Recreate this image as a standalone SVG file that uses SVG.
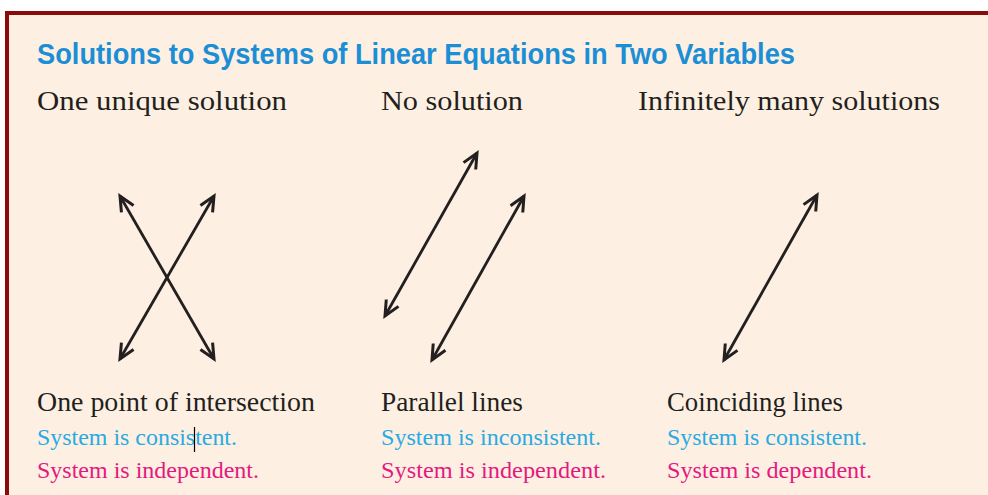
<svg xmlns="http://www.w3.org/2000/svg" width="988" height="495" viewBox="0 0 988 495">
<style>
.hd{font-family:"Liberation Serif","Times New Roman",serif;font-size:27px;fill:#231f20}
.bl{font-family:"Liberation Serif","Times New Roman",serif;font-size:23.5px;fill:#2aaae2}
.pk{font-family:"Liberation Serif","Times New Roman",serif;font-size:23.5px;fill:#e6187f}
.ttl{font-family:"Liberation Sans Narrow","Liberation Sans",Arial,sans-serif;font-weight:bold;font-size:29px;fill:#1b8ed6}
.ln{stroke:#231f20;stroke-width:2.8;fill:none;marker-start:url(#ah);marker-end:url(#ah)}
</style>
<defs>
<marker id="ah" markerUnits="userSpaceOnUse" viewBox="-20 -10 24 20" refX="0" refY="0" markerWidth="24" markerHeight="20" orient="auto-start-reverse">
<path d="M-15 -7 L0 0 L-15 7" fill="none" stroke="#231f20" stroke-width="3" stroke-linejoin="miter"/>
</marker>
</defs>
<rect x="0" y="0" width="988" height="495" fill="#ffffff"/>
<rect x="7" y="13" width="990" height="490" fill="#fdf0e2"/>
<line x1="5" y1="13" x2="988" y2="13" stroke="#8b0a0a" stroke-width="4"/>
<line x1="7" y1="11" x2="7" y2="495" stroke="#8b0a0a" stroke-width="4"/>
<g id="title"><text class="ttl" x="37" y="64" textLength="758" lengthAdjust="spacingAndGlyphs">Solutions to Systems of Linear Equations in Two Variables</text></g>
<g id="panel-unique">
<text class="hd" x="37" y="110" textLength="250" lengthAdjust="spacingAndGlyphs">One unique solution</text>
<text class="hd" x="37" y="411" textLength="278" lengthAdjust="spacingAndGlyphs">One point of intersection</text>
<text class="bl" x="37" y="445" textLength="200" lengthAdjust="spacingAndGlyphs">System is consistent.</text>
<text class="pk" x="37" y="478" textLength="222" lengthAdjust="spacingAndGlyphs">System is independent.</text>
<line x1="194.5" y1="427" x2="194.5" y2="452" stroke="#000" stroke-width="1.2"/>
</g>
<g id="panel-none">
<text class="hd" x="381" y="110" textLength="142" lengthAdjust="spacingAndGlyphs">No solution</text>
<text class="hd" x="381" y="411" textLength="142" lengthAdjust="spacingAndGlyphs">Parallel lines</text>
<text class="bl" x="381" y="445" textLength="220" lengthAdjust="spacingAndGlyphs">System is inconsistent.</text>
<text class="pk" x="381" y="478" textLength="225" lengthAdjust="spacingAndGlyphs">System is independent.</text>
</g>
<g id="panel-infinite">
<text class="hd" x="638" y="110" textLength="302" lengthAdjust="spacingAndGlyphs">Infinitely many solutions</text>
<text class="hd" x="667" y="411" textLength="176" lengthAdjust="spacingAndGlyphs">Coinciding lines</text>
<text class="bl" x="667" y="445" textLength="200" lengthAdjust="spacingAndGlyphs">System is consistent.</text>
<text class="pk" x="667" y="478" textLength="205" lengthAdjust="spacingAndGlyphs">System is dependent.</text>
</g>
<g id="connectors">
<line class="ln" x1="120" y1="196" x2="214" y2="359"/>
<line class="ln" x1="214" y1="196" x2="120" y2="359"/>
<line class="ln" x1="477" y1="153" x2="385" y2="316"/>
<line class="ln" x1="524" y1="196" x2="432" y2="360"/>
<line class="ln" x1="817" y1="195" x2="724" y2="360"/>
</g>
</svg>
